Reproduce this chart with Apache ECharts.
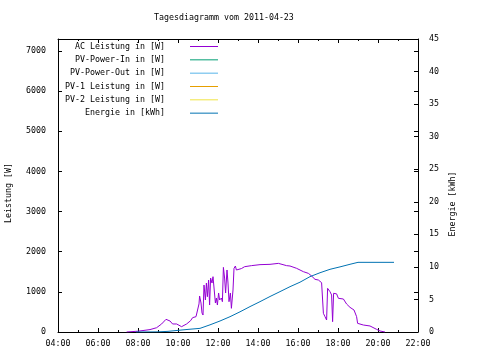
<!DOCTYPE html>
<html><head><meta charset="utf-8">
<script src="https://cdn.jsdelivr.net/npm/echarts@6/dist/echarts.min.js"></script>
<style>html,body{margin:0;padding:0;background:#fff}#c{width:480px;height:360px}</style>
</head><body><div id="c"></div>
<script>
// AC Leistung [hour, W]
var acTimes = [7.43,7.5,8.0,8.3,8.6,8.93,9.18,9.4,9.5,9.6,9.73,9.93,10.18,10.43,10.63,10.73,10.9,11.0,11.05,11.08,11.15,11.2,11.25,11.3,11.37,11.42,11.47,11.53,11.58,11.63,11.7,11.75,11.83,11.87,11.92,11.97,12.03,12.08,12.17,12.22,12.27,12.33,12.38,12.45,12.5,12.55,12.62,12.67,12.75,12.8,12.87,12.92,13.17,13.33,13.67,14.1,14.6,15.02,15.43,15.6,15.93,16.27,16.52,16.68,16.85,17.02,17.18,17.27,17.35,17.43,17.48,17.6,17.68,17.73,17.78,17.93,18.02,18.27,18.43,18.6,18.8,18.93,18.98,19.27,19.6,19.93,20.1,20.35];
var acValues = [0,20,20,40,60,107,200,316,320,274,200,200,133,200,282,357,382,390,700,897,722,473,423,1170,797,1220,880,1295,672,1345,1220,1378,1378,722,847,672,972,797,847,755,1610,1345,972,1545,1220,755,972,590,1046,1586,1644,1545,1580,1627,1653,1678,1686,1710,1653,1644,1586,1503,1461,1395,1312,1295,1229,465,382,299,1088,1004,922,257,964,950,839,822,697,614,548,382,216,174,150,66,25,0];
// Energie [hour, kWh]
var enTimes = [7.9,9.0,9.5,10.0,10.5,11.1,11.6,12.1,12.6,13.1,13.6,14.1,14.6,15.1,15.6,16.1,16.6,17.1,17.6,18.1,18.6,19.0,20.8];
var enValues = [0,0.02,0.1,0.25,0.4,0.56,1.1,1.69,2.35,3.1,3.9,4.66,5.45,6.2,6.96,7.65,8.5,9.1,9.63,10.0,10.4,10.7,10.7];
var seriesNames = ['AC Leistung in [W]','PV-Power-In in [W]','PV-Power-Out in [W]','PV-1 Leistung in [W]','PV-2 Leistung in [W]','Energie in [kWh]'];
var seriesColors = ['#9400d3','#009e73','#56b4e9','#e69f00','#f0e442','#0072b2'];
var leftTicks = [0,1000,2000,3000,4000,5000,6000,7000];
var rightTicks = [0,5,10,15,20,25,30,35,40,45];

var FONT = 'DejaVu Sans Mono';
var FS = 8.3;
function zip(a,b){return a.map(function(t,i){return [t,b[i]];});}
function hh(v){var h=Math.round(v);return (h<10?'0':'')+h+':00';}

var legends = seriesNames.map(function(n,i){
  return {data:[{name:n, icon:'rect'}], orient:'vertical', right:262, top:42.5+i*13.33, padding:0,
    itemWidth:28, itemHeight:1, itemGap:0, align:'right', selectedMode:false,
    textStyle:{fontFamily:FONT,fontSize:FS,color:'#000',padding:[0,20,0,0]}};
});

var dataSeries = [
  {name:seriesNames[0], type:'line', data:zip(acTimes,acValues), yAxisIndex:0},
  {name:seriesNames[1], type:'line', data:[], yAxisIndex:0},
  {name:seriesNames[2], type:'line', data:[], yAxisIndex:0},
  {name:seriesNames[3], type:'line', data:[], yAxisIndex:0},
  {name:seriesNames[4], type:'line', data:[], yAxisIndex:0},
  {name:seriesNames[5], type:'line', data:zip(enTimes,enValues), yAxisIndex:1}
].map(function(s,i){
  s.symbol='none'; s.showSymbol=false; s.animation=false;
  s.lineStyle={color:seriesColors[i],width:1}; s.itemStyle={color:seriesColors[i]};
  return s;
});

var chart = echarts.init(document.getElementById('c'), null, {renderer:'canvas'});
chart.setOption({
  backgroundColor:'#fff',
  animation:false,
  title:{text:'Tagesdiagramm vom 2011-04-23', left:154, top:14, padding:0,
    textStyle:{fontFamily:FONT,fontSize:FS,fontWeight:'normal',color:'#000'}},
  legend:legends,
  grid:{left:58,right:62,top:39,bottom:28,containLabel:false},
  xAxis:[
    {type:'value',min:4,max:22,interval:2,position:'bottom',
     axisLine:{show:true,onZero:false,lineStyle:{color:'#000',width:1}},
     axisTick:{show:true,inside:true,length:4,lineStyle:{color:'#000'}},
     minorTick:{show:true,splitNumber:2,length:2,lineStyle:{color:'#000'}},
     splitLine:{show:false},
     axisLabel:{formatter:hh,margin:8,fontFamily:FONT,fontSize:FS,color:'#000'}},
    {type:'value',min:4,max:22,interval:2,position:'top',
     axisLine:{show:true,onZero:false,lineStyle:{color:'#000',width:1}},
     axisTick:{show:true,inside:true,length:4,lineStyle:{color:'#000'}},
     minorTick:{show:true,splitNumber:2,length:2,lineStyle:{color:'#000'}},
     splitLine:{show:false},axisLabel:{show:false}}
  ],
  yAxis:[
    {type:'value',min:0,max:7300,interval:1000,position:'left',
     axisLine:{show:true,onZero:false,lineStyle:{color:'#000',width:1}},
     axisTick:{show:true,inside:true,length:4,lineStyle:{color:'#000'}},
     splitLine:{show:false},
     axisLabel:{margin:12,fontFamily:FONT,fontSize:FS,color:'#000',
       formatter:function(v){return leftTicks.indexOf(v)>=0?String(v):'';}}},
    {type:'value',min:0,max:45,interval:5,position:'right',
     axisLine:{show:true,onZero:false,lineStyle:{color:'#000',width:1}},
     axisTick:{show:true,inside:true,length:4,lineStyle:{color:'#000'}},
     splitLine:{show:false},
     axisLabel:{margin:11,fontFamily:FONT,fontSize:FS,color:'#000',
       formatter:function(v){return rightTicks.indexOf(v)>=0?String(v):'';}}},
    {type:'value',min:0,max:7300,interval:1000,position:'right',
     axisLine:{show:false,onZero:false},
     axisTick:{show:true,inside:true,length:4,lineStyle:{color:'#000'}},
     splitLine:{show:false},axisLabel:{show:false}}
  ],
  graphic:[
    {type:'text',x:9,y:193,rotation:Math.PI/2,
     style:{text:'Leistung [W]',fontFamily:FONT,fontSize:FS,fill:'#000',textAlign:'center',textVerticalAlign:'middle'}},
    {type:'text',x:453,y:204,rotation:Math.PI/2,
     style:{text:'Energie [kWh]',fontFamily:FONT,fontSize:FS,fill:'#000',textAlign:'center',textVerticalAlign:'middle'}}
  ],
  series:dataSeries
});
</script></body></html>
